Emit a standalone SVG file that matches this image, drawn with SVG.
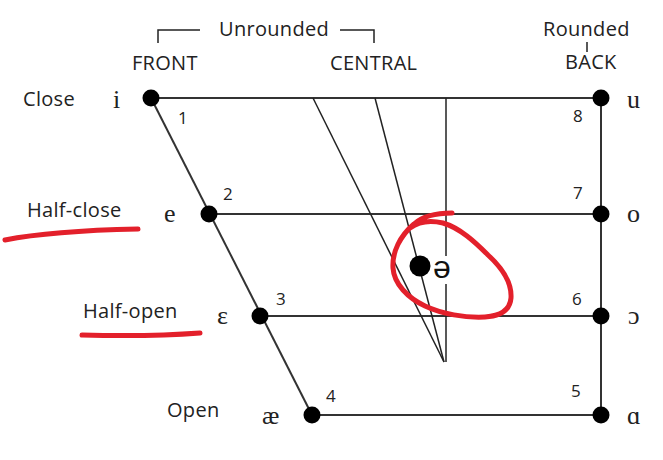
<svg xmlns="http://www.w3.org/2000/svg" width="663" height="460" viewBox="0 0 663 460">
<style>
.lbl{font-family:"Open Sans","DejaVu Sans",sans-serif;font-size:20px;letter-spacing:0.3px;fill:#222}
.num{font-family:"Open Sans","DejaVu Sans",sans-serif;font-size:17px;fill:#222}
.ipa{font-family:"Liberation Serif","DejaVu Serif",serif;font-size:26px;fill:#222}
.frame{stroke:#333;stroke-width:2;fill:none}
.thin{stroke:#222;stroke-width:1.5;fill:none}
.red{stroke:#e3202b;stroke-width:5;fill:none;stroke-linecap:round;stroke-linejoin:round}
.dot{fill:#000}
</style>
<rect width="663" height="460" fill="#fff"/>
<g id="header">
<path class="thin" d="M158,43 V30 H200"/>
<path class="thin" d="M340,30 H374 V43"/>
<path class="thin" d="M587,42 V52"/>
<text class="lbl" x="219" y="36">Unrounded</text>
<text class="lbl" x="132" y="70">FRONT</text>
<text class="lbl" x="330" y="70">CENTRAL</text>
<text class="lbl" x="543" y="36">Rounded</text>
<text class="lbl" x="565" y="69">BACK</text>
</g>
<g id="row-labels">
<text class="lbl" x="23" y="106">Close</text>
<text class="lbl" x="27" y="217">Half-close</text>
<text class="lbl" x="83" y="318">Half-open</text>
<text class="lbl" x="167" y="417">Open</text>
</g>
<g id="connectors">
<line class="frame" x1="151" y1="98" x2="601" y2="98"/>
<line class="frame" x1="209" y1="214" x2="601" y2="214"/>
<line class="frame" x1="260" y1="316" x2="601" y2="316"/>
<line class="frame" x1="312" y1="415" x2="601" y2="415"/>
<line class="frame" x1="151" y1="98" x2="312" y2="415"/>
<line class="frame" x1="601" y1="98" x2="601" y2="415"/>
<line class="thin" x1="313" y1="98" x2="444" y2="362"/>
<line class="thin" x1="375" y1="98" x2="444" y2="362"/>
<line class="thin" x1="446" y1="98" x2="446" y2="256"/>
<line class="thin" x1="446" y1="284" x2="446" y2="362"/>
</g>
<g id="v1"><circle class="dot" cx="151" cy="98" r="8.5"/><text class="ipa" x="113" y="108">i</text><text class="num" x="178" y="124">1</text></g>
<g id="v2"><circle class="dot" cx="209" cy="214" r="8.5"/><text class="ipa" x="164" y="222">e</text><text class="num" x="223" y="200">2</text></g>
<g id="v3"><circle class="dot" cx="260" cy="316" r="8.5"/><text class="ipa" x="217" y="324">ɛ</text><text class="num" x="276" y="305">3</text></g>
<g id="v4"><circle class="dot" cx="312" cy="415" r="8.5"/><text class="ipa" x="262" y="424">æ</text><text class="num" x="326" y="402">4</text></g>
<g id="v5"><circle class="dot" cx="601" cy="415" r="8.5"/><text class="ipa" x="627" y="424">ɑ</text><text class="num" x="571" y="397">5</text></g>
<g id="v6"><circle class="dot" cx="601" cy="316" r="8.5"/><text class="ipa" x="628" y="324">ɔ</text><text class="num" x="572" y="305">6</text></g>
<g id="v7"><circle class="dot" cx="601" cy="214" r="8.5"/><text class="ipa" x="627" y="222">o</text><text class="num" x="573" y="199">7</text></g>
<g id="v8"><circle class="dot" cx="601" cy="98" r="8.5"/><text class="ipa" x="627" y="108">u</text><text class="num" x="573" y="122">8</text></g>
<g id="schwa"><circle class="dot" cx="420" cy="266" r="10.5"/><text x="433" y="278" style="font-family:'Liberation Sans','DejaVu Sans',sans-serif;font-size:32px;fill:#111">ə</text></g>
<g id="annotations">
<path class="red" d="M452,213 C440,213 425,214 414,224 C400,236 392,252 393,268 C394,284 408,298 425,306 C442,314 465,318 485,317 C500,316 510,310 511,298 C512,282 500,266 488,255 C475,242 460,228 443,223 C430,220 418,222 410,228"/>
<path class="red" d="M5,240 C40,233 90,230 138,229"/>
<path class="red" d="M82,335 C120,336 160,336 200,333"/>
</g>
</svg>
